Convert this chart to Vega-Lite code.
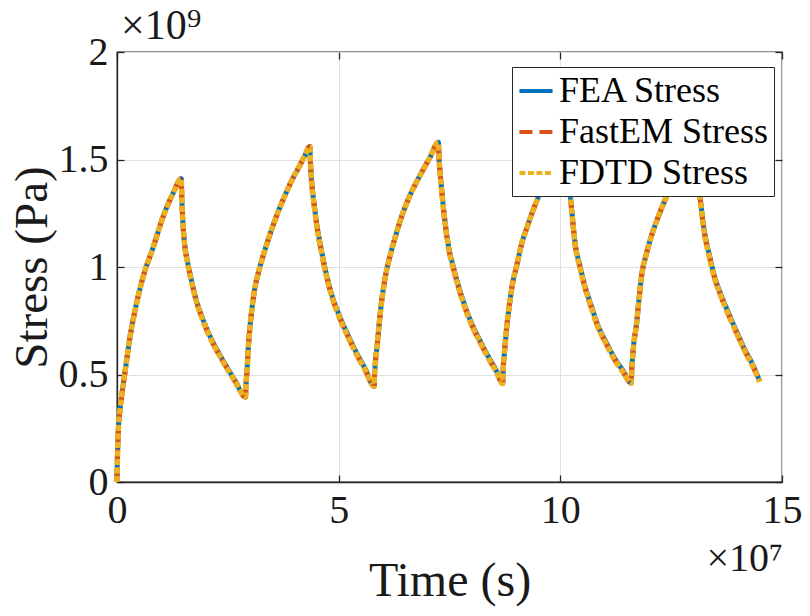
{
 "$schema": "https://vega.github.io/schema/vega-lite/v6.json",
 "width": 665, "height": 430, "autosize": "none",
 "padding": {"left": 117, "top": 52, "right": 28, "bottom": 134},
 "background": "white",
 "config": {"view": {"stroke": "#262626", "strokeWidth": 1.3}, "font": "Liberation Serif"},
 "data": {"values": [
  {"t": 0, "FEA": 0, "FastEM": 0, "FDTD": 0},
  {"t": 0.005e7, "FEA": 0.08e9, "FastEM": 0.08e9, "FDTD": 0.08e9},
  {"t": 0.015e7, "FEA": 0.15e9, "FastEM": 0.15e9, "FDTD": 0.15e9},
  {"t": 0.03e7, "FEA": 0.24e9, "FastEM": 0.24e9, "FDTD": 0.24e9},
  {"t": 0.06e7, "FEA": 0.32e9, "FastEM": 0.32e9, "FDTD": 0.32e9},
  {"t": 0.105e7, "FEA": 0.40e9, "FastEM": 0.40e9, "FDTD": 0.40e9},
  {"t": 0.18e7, "FEA": 0.51e9, "FastEM": 0.51e9, "FDTD": 0.51e9},
  {"t": 0.29e7, "FEA": 0.67e9, "FastEM": 0.67e9, "FDTD": 0.67e9},
  {"t": 0.44e7, "FEA": 0.83e9, "FastEM": 0.83e9, "FDTD": 0.83e9},
  {"t": 0.59e7, "FEA": 0.955e9, "FastEM": 0.955e9, "FDTD": 0.955e9},
  {"t": 0.82e7, "FEA": 1.094e9, "FastEM": 1.094e9, "FDTD": 1.094e9},
  {"t": 1.04e7, "FEA": 1.234e9, "FastEM": 1.234e9, "FDTD": 1.234e9},
  {"t": 1.265e7, "FEA": 1.343e9, "FastEM": 1.343e9, "FDTD": 1.343e9},
  {"t": 1.45e7, "FEA": 1.41e9, "FastEM": 1.41e9, "FDTD": 1.41e9},
  {"t": 1.46e7, "FEA": 1.335e9, "FastEM": 1.33e9, "FDTD": 1.33e9},
  {"t": 1.475e7, "FEA": 1.256e9, "FastEM": 1.25e9, "FDTD": 1.25e9},
  {"t": 1.50e7, "FEA": 1.166e9, "FastEM": 1.16e9, "FDTD": 1.16e9},
  {"t": 1.53e7, "FEA": 1.10e9, "FastEM": 1.094e9, "FDTD": 1.094e9},
  {"t": 1.58e7, "FEA": 1.036e9, "FastEM": 1.03e9, "FDTD": 1.03e9},
  {"t": 1.64e7, "FEA": 0.976e9, "FastEM": 0.97e9, "FDTD": 0.97e9},
  {"t": 1.79e7, "FEA": 0.846e9, "FastEM": 0.84e9, "FDTD": 0.84e9},
  {"t": 1.93e7, "FEA": 0.761e9, "FastEM": 0.755e9, "FDTD": 0.755e9},
  {"t": 2.09e7, "FEA": 0.682e9, "FastEM": 0.676e9, "FDTD": 0.676e9},
  {"t": 2.28e7, "FEA": 0.606e9, "FastEM": 0.60e9, "FDTD": 0.60e9},
  {"t": 2.46e7, "FEA": 0.541e9, "FastEM": 0.536e9, "FDTD": 0.536e9},
  {"t": 2.67e7, "FEA": 0.469e9, "FastEM": 0.465e9, "FDTD": 0.465e9},
  {"t": 2.90e7, "FEA": 0.395e9, "FastEM": 0.395e9, "FDTD": 0.395e9},
  {"t": 2.905e7, "FEA": 0.43e9, "FastEM": 0.43e9, "FDTD": 0.43e9},
  {"t": 2.915e7, "FEA": 0.47e9, "FastEM": 0.47e9, "FDTD": 0.47e9},
  {"t": 2.93e7, "FEA": 0.51e9, "FastEM": 0.51e9, "FDTD": 0.51e9},
  {"t": 2.96e7, "FEA": 0.62e9, "FastEM": 0.62e9, "FDTD": 0.62e9},
  {"t": 2.99e7, "FEA": 0.70e9, "FastEM": 0.70e9, "FDTD": 0.70e9},
  {"t": 3.04e7, "FEA": 0.80e9, "FastEM": 0.80e9, "FDTD": 0.80e9},
  {"t": 3.10e7, "FEA": 0.89e9, "FastEM": 0.89e9, "FDTD": 0.89e9},
  {"t": 3.19e7, "FEA": 0.975e9, "FastEM": 0.975e9, "FDTD": 0.975e9},
  {"t": 3.29e7, "FEA": 1.048e9, "FastEM": 1.048e9, "FDTD": 1.048e9},
  {"t": 3.40e7, "FEA": 1.12e9, "FastEM": 1.12e9, "FDTD": 1.12e9},
  {"t": 3.51e7, "FEA": 1.187e9, "FastEM": 1.187e9, "FDTD": 1.187e9},
  {"t": 3.65e7, "FEA": 1.265e9, "FastEM": 1.265e9, "FDTD": 1.265e9},
  {"t": 3.81e7, "FEA": 1.343e9, "FastEM": 1.343e9, "FDTD": 1.343e9},
  {"t": 3.96e7, "FEA": 1.41e9, "FastEM": 1.41e9, "FDTD": 1.41e9},
  {"t": 4.11e7, "FEA": 1.467e9, "FastEM": 1.467e9, "FDTD": 1.467e9},
  {"t": 4.23e7, "FEA": 1.515e9, "FastEM": 1.515e9, "FDTD": 1.515e9},
  {"t": 4.35e7, "FEA": 1.56e9, "FastEM": 1.56e9, "FDTD": 1.56e9},
  {"t": 4.36e7, "FEA": 1.506e9, "FastEM": 1.50e9, "FDTD": 1.50e9},
  {"t": 4.375e7, "FEA": 1.442e9, "FastEM": 1.436e9, "FDTD": 1.436e9},
  {"t": 4.41e7, "FEA": 1.357e9, "FastEM": 1.35e9, "FDTD": 1.35e9},
  {"t": 4.45e7, "FEA": 1.288e9, "FastEM": 1.28e9, "FDTD": 1.28e9},
  {"t": 4.50e7, "FEA": 1.208e9, "FastEM": 1.20e9, "FDTD": 1.20e9},
  {"t": 4.56e7, "FEA": 1.134e9, "FastEM": 1.126e9, "FDTD": 1.126e9},
  {"t": 4.63e7, "FEA": 1.058e9, "FastEM": 1.05e9, "FDTD": 1.05e9},
  {"t": 4.71e7, "FEA": 0.978e9, "FastEM": 0.97e9, "FDTD": 0.97e9},
  {"t": 4.85e7, "FEA": 0.868e9, "FastEM": 0.86e9, "FDTD": 0.86e9},
  {"t": 5.01e7, "FEA": 0.777e9, "FastEM": 0.769e9, "FDTD": 0.769e9},
  {"t": 5.20e7, "FEA": 0.688e9, "FastEM": 0.68e9, "FDTD": 0.68e9},
  {"t": 5.39e7, "FEA": 0.606e9, "FastEM": 0.599e9, "FDTD": 0.599e9},
  {"t": 5.60e7, "FEA": 0.526e9, "FastEM": 0.52e9, "FDTD": 0.52e9},
  {"t": 5.80e7, "FEA": 0.445e9, "FastEM": 0.445e9, "FDTD": 0.445e9},
  {"t": 5.81e7, "FEA": 0.50e9, "FastEM": 0.50e9, "FDTD": 0.50e9},
  {"t": 5.83e7, "FEA": 0.56e9, "FastEM": 0.56e9, "FDTD": 0.56e9},
  {"t": 5.87e7, "FEA": 0.64e9, "FastEM": 0.64e9, "FDTD": 0.64e9},
  {"t": 5.95e7, "FEA": 0.808e9, "FastEM": 0.808e9, "FDTD": 0.808e9},
  {"t": 6.06e7, "FEA": 0.963e9, "FastEM": 0.963e9, "FDTD": 0.963e9},
  {"t": 6.17e7, "FEA": 1.06e9, "FastEM": 1.06e9, "FDTD": 1.06e9},
  {"t": 6.29e7, "FEA": 1.149e9, "FastEM": 1.149e9, "FDTD": 1.149e9},
  {"t": 6.43e7, "FEA": 1.24e9, "FastEM": 1.24e9, "FDTD": 1.24e9},
  {"t": 6.58e7, "FEA": 1.32e9, "FastEM": 1.32e9, "FDTD": 1.32e9},
  {"t": 6.73e7, "FEA": 1.385e9, "FastEM": 1.385e9, "FDTD": 1.385e9},
  {"t": 6.88e7, "FEA": 1.443e9, "FastEM": 1.443e9, "FDTD": 1.443e9},
  {"t": 7.06e7, "FEA": 1.51e9, "FastEM": 1.51e9, "FDTD": 1.51e9},
  {"t": 7.25e7, "FEA": 1.58e9, "FastEM": 1.58e9, "FDTD": 1.58e9},
  {"t": 7.26e7, "FEA": 1.526e9, "FastEM": 1.52e9, "FDTD": 1.52e9},
  {"t": 7.29e7, "FEA": 1.436e9, "FastEM": 1.428e9, "FDTD": 1.428e9},
  {"t": 7.33e7, "FEA": 1.348e9, "FastEM": 1.34e9, "FDTD": 1.34e9},
  {"t": 7.37e7, "FEA": 1.265e9, "FastEM": 1.257e9, "FDTD": 1.257e9},
  {"t": 7.42e7, "FEA": 1.178e9, "FastEM": 1.17e9, "FDTD": 1.17e9},
  {"t": 7.48e7, "FEA": 1.095e9, "FastEM": 1.087e9, "FDTD": 1.087e9},
  {"t": 7.59e7, "FEA": 0.998e9, "FastEM": 0.99e9, "FDTD": 0.99e9},
  {"t": 7.71e7, "FEA": 0.908e9, "FastEM": 0.90e9, "FDTD": 0.90e9},
  {"t": 7.85e7, "FEA": 0.818e9, "FastEM": 0.81e9, "FDTD": 0.81e9},
  {"t": 8.00e7, "FEA": 0.738e9, "FastEM": 0.73e9, "FDTD": 0.73e9},
  {"t": 8.19e7, "FEA": 0.657e9, "FastEM": 0.65e9, "FDTD": 0.65e9},
  {"t": 8.38e7, "FEA": 0.582e9, "FastEM": 0.575e9, "FDTD": 0.575e9},
  {"t": 8.55e7, "FEA": 0.521e9, "FastEM": 0.515e9, "FDTD": 0.515e9},
  {"t": 8.70e7, "FEA": 0.458e9, "FastEM": 0.458e9, "FDTD": 0.458e9},
  {"t": 8.71e7, "FEA": 0.52e9, "FastEM": 0.52e9, "FDTD": 0.52e9},
  {"t": 8.73e7, "FEA": 0.58e9, "FastEM": 0.58e9, "FDTD": 0.58e9},
  {"t": 8.76e7, "FEA": 0.65e9, "FastEM": 0.65e9, "FDTD": 0.65e9},
  {"t": 8.79e7, "FEA": 0.72e9, "FastEM": 0.72e9, "FDTD": 0.72e9},
  {"t": 8.85e7, "FEA": 0.82e9, "FastEM": 0.82e9, "FDTD": 0.82e9},
  {"t": 8.91e7, "FEA": 0.908e9, "FastEM": 0.908e9, "FDTD": 0.908e9},
  {"t": 9.02e7, "FEA": 1.01e9, "FastEM": 1.01e9, "FDTD": 1.01e9},
  {"t": 9.13e7, "FEA": 1.11e9, "FastEM": 1.11e9, "FDTD": 1.11e9},
  {"t": 9.25e7, "FEA": 1.185e9, "FastEM": 1.185e9, "FDTD": 1.185e9},
  {"t": 9.36e7, "FEA": 1.25e9, "FastEM": 1.25e9, "FDTD": 1.25e9},
  {"t": 9.54e7, "FEA": 1.343e9, "FastEM": 1.343e9, "FDTD": 1.343e9},
  {"t": 9.70e7, "FEA": 1.41e9, "FastEM": 1.41e9, "FDTD": 1.41e9},
  {"t": 9.85e7, "FEA": 1.47e9, "FastEM": 1.47e9, "FDTD": 1.47e9},
  {"t": 10.00e7, "FEA": 1.525e9, "FastEM": 1.525e9, "FDTD": 1.525e9},
  {"t": 10.15e7, "FEA": 1.58e9, "FastEM": 1.58e9, "FDTD": 1.58e9},
  {"t": 10.16e7, "FEA": 1.526e9, "FastEM": 1.52e9, "FDTD": 1.52e9},
  {"t": 10.19e7, "FEA": 1.438e9, "FastEM": 1.43e9, "FDTD": 1.43e9},
  {"t": 10.22e7, "FEA": 1.351e9, "FastEM": 1.343e9, "FDTD": 1.343e9},
  {"t": 10.27e7, "FEA": 1.238e9, "FastEM": 1.23e9, "FDTD": 1.23e9},
  {"t": 10.33e7, "FEA": 1.118e9, "FastEM": 1.11e9, "FDTD": 1.11e9},
  {"t": 10.44e7, "FEA": 1.008e9, "FastEM": 1.00e9, "FDTD": 1.00e9},
  {"t": 10.55e7, "FEA": 0.916e9, "FastEM": 0.908e9, "FDTD": 0.908e9},
  {"t": 10.70e7, "FEA": 0.818e9, "FastEM": 0.81e9, "FDTD": 0.81e9},
  {"t": 10.85e7, "FEA": 0.728e9, "FastEM": 0.72e9, "FDTD": 0.72e9},
  {"t": 11.04e7, "FEA": 0.647e9, "FastEM": 0.64e9, "FDTD": 0.64e9},
  {"t": 11.23e7, "FEA": 0.574e9, "FastEM": 0.567e9, "FDTD": 0.567e9},
  {"t": 11.42e7, "FEA": 0.516e9, "FastEM": 0.51e9, "FDTD": 0.51e9},
  {"t": 11.60e7, "FEA": 0.46e9, "FastEM": 0.46e9, "FDTD": 0.46e9},
  {"t": 11.61e7, "FEA": 0.52e9, "FastEM": 0.52e9, "FDTD": 0.52e9},
  {"t": 11.63e7, "FEA": 0.58e9, "FastEM": 0.58e9, "FDTD": 0.58e9},
  {"t": 11.66e7, "FEA": 0.65e9, "FastEM": 0.65e9, "FDTD": 0.65e9},
  {"t": 11.71e7, "FEA": 0.72e9, "FastEM": 0.72e9, "FDTD": 0.72e9},
  {"t": 11.77e7, "FEA": 0.84e9, "FastEM": 0.84e9, "FDTD": 0.84e9},
  {"t": 11.83e7, "FEA": 0.955e9, "FastEM": 0.955e9, "FDTD": 0.955e9},
  {"t": 11.94e7, "FEA": 1.06e9, "FastEM": 1.06e9, "FDTD": 1.06e9},
  {"t": 12.05e7, "FEA": 1.141e9, "FastEM": 1.141e9, "FDTD": 1.141e9},
  {"t": 12.24e7, "FEA": 1.25e9, "FastEM": 1.25e9, "FDTD": 1.25e9},
  {"t": 12.43e7, "FEA": 1.343e9, "FastEM": 1.343e9, "FDTD": 1.343e9},
  {"t": 12.60e7, "FEA": 1.41e9, "FastEM": 1.41e9, "FDTD": 1.41e9},
  {"t": 12.75e7, "FEA": 1.47e9, "FastEM": 1.47e9, "FDTD": 1.47e9},
  {"t": 12.90e7, "FEA": 1.525e9, "FastEM": 1.525e9, "FDTD": 1.525e9},
  {"t": 13.05e7, "FEA": 1.58e9, "FastEM": 1.58e9, "FDTD": 1.58e9},
  {"t": 13.06e7, "FEA": 1.526e9, "FastEM": 1.52e9, "FDTD": 1.52e9},
  {"t": 13.09e7, "FEA": 1.438e9, "FastEM": 1.43e9, "FDTD": 1.43e9},
  {"t": 13.14e7, "FEA": 1.351e9, "FastEM": 1.343e9, "FDTD": 1.343e9},
  {"t": 13.19e7, "FEA": 1.258e9, "FastEM": 1.25e9, "FDTD": 1.25e9},
  {"t": 13.25e7, "FEA": 1.165e9, "FastEM": 1.157e9, "FDTD": 1.157e9},
  {"t": 13.36e7, "FEA": 1.058e9, "FastEM": 1.05e9, "FDTD": 1.05e9},
  {"t": 13.47e7, "FEA": 0.963e9, "FastEM": 0.955e9, "FDTD": 0.955e9},
  {"t": 13.62e7, "FEA": 0.873e9, "FastEM": 0.865e9, "FDTD": 0.865e9},
  {"t": 13.78e7, "FEA": 0.793e9, "FastEM": 0.785e9, "FDTD": 0.785e9},
  {"t": 13.96e7, "FEA": 0.707e9, "FastEM": 0.70e9, "FDTD": 0.70e9},
  {"t": 14.15e7, "FEA": 0.621e9, "FastEM": 0.614e9, "FDTD": 0.614e9},
  {"t": 14.35e7, "FEA": 0.541e9, "FastEM": 0.535e9, "FDTD": 0.535e9},
  {"t": 14.50e7, "FEA": 0.468e9, "FastEM": 0.466e9, "FDTD": 0.466e9}
 ]},
 "layer": [
  {
   "encoding": {
    "x": {"field": "t", "type": "quantitative", "scale": {"domain": [0, 150000000], "nice": false, "zero": false},
      "axis": {"values": [0, 50000000, 100000000, 150000000], "labelExpr": "datum.value / 1e7", "title": "Time (s)",
        "grid": true, "gridColor": "#e0e0e0", "gridWidth": 1, "domainColor": "#262626", "domainWidth": 1.3,
        "tickColor": "#262626", "tickWidth": 1.3, "tickSize": -7, "labelFont": "Liberation Serif", "labelFontSize": 40,
        "labelColor": "#1a1a1a", "labelPadding": 15, "labelFlush": false, "labelOverlap": false,
        "titleFont": "Liberation Serif", "titleFontSize": 48, "titleFontWeight": "normal", "titleColor": "#1a1a1a", "titlePadding": 27}},
    "y": {"field": "stress", "type": "quantitative", "scale": {"domain": [0, 2000000000], "nice": false},
      "axis": {"values": [0, 500000000, 1000000000, 1500000000, 2000000000], "labelExpr": "datum.value / 1e9", "title": "Stress (Pa)",
        "grid": true, "gridColor": "#e0e0e0", "gridWidth": 1, "domainColor": "#262626", "domainWidth": 1.3,
        "tickColor": "#262626", "tickWidth": 1.3, "tickSize": -7, "labelFont": "Liberation Serif", "labelFontSize": 40,
        "labelColor": "#1a1a1a", "labelPadding": 16, "labelFlush": false, "labelOverlap": false,
        "titleFont": "Liberation Serif", "titleFontSize": 47, "titleFontWeight": "normal", "titleColor": "#1a1a1a", "titlePadding": 2}}
   },
   "layer": [
    {
     "transform": [{"fold": ["FEA", "FastEM", "FDTD"], "as": ["series", "stress"]}],
     "encoding": {
      "color": {"field": "series", "type": "nominal",
        "scale": {"domain": ["FEA", "FastEM", "FDTD"], "range": ["#0072BD", "#D95319", "#EDB120"]},
        "legend": {"title": null, "orient": "none", "legendX": 395, "legendY": 15, "fillColor": "white", "strokeColor": "#262626",
          "padding": 5, "labelFont": "Liberation Serif", "labelFontSize": 36, "labelColor": "#000000", "labelExpr": "datum.label + ' Stress'",
          "labelLimit": 400, "symbolType": "stroke", "symbolStrokeWidth": 4, "symbolSize": 1100, "rowPadding": 4, "labelOffset": 4}},
      "strokeDash": {"field": "series", "type": "nominal",
        "scale": {"domain": ["FEA", "FastEM", "FDTD"], "range": [[1, 0], [13, 7], [6, 2.5]]},
        "legend": {"title": null, "orient": "none", "legendX": 395, "legendY": 15, "fillColor": "white", "strokeColor": "#262626",
          "padding": 5, "labelFont": "Liberation Serif", "labelFontSize": 36, "labelColor": "#000000", "labelExpr": "datum.label + ' Stress'",
          "labelLimit": 400, "symbolType": "stroke", "symbolStrokeWidth": 4, "symbolSize": 1100, "rowPadding": 4, "labelOffset": 4}}
     },
     "layer": [
      {"transform": [{"filter": "datum.series === 'FEA'"}], "mark": {"type": "line", "strokeWidth": 5, "interpolate": "monotone"}},
      {"transform": [{"filter": "datum.series === 'FastEM'"}], "mark": {"type": "line", "strokeWidth": 5, "strokeCap": "butt", "interpolate": "monotone"}},
      {"transform": [{"filter": "datum.series === 'FDTD'"}], "mark": {"type": "line", "strokeWidth": 5.5, "strokeCap": "butt", "interpolate": "monotone"}}
     ]
    }
   ]
  },
  {
   "data": {"values": [{"tx": 150000000, "sy": 0, "label": "×10⁷"}]},
   "mark": {"type": "text", "align": "right", "baseline": "alphabetic", "dx": 1, "dy": 89, "fontSize": 40, "font": "Liberation Serif", "color": "#1a1a1a"},
   "encoding": {
    "x": {"field": "tx", "type": "quantitative", "axis": null},
    "y": {"field": "sy", "type": "quantitative", "axis": null},
    "text": {"field": "label"}
   }
  },
  {
   "data": {"values": [{"tx": 0, "sy": 2000000000, "label": "×10⁹"}]},
   "mark": {"type": "text", "align": "left", "baseline": "alphabetic", "dx": 4, "dy": -13, "fontSize": 42, "font": "Liberation Serif", "color": "#1a1a1a"},
   "encoding": {
    "x": {"field": "tx", "type": "quantitative", "axis": null},
    "y": {"field": "sy", "type": "quantitative", "axis": null},
    "text": {"field": "label"}
   }
  },
  {
   "mark": {"type": "line", "strokeOpacity": 0},
   "encoding": {
    "x": {"field": "t", "type": "quantitative", "axis": {"orient": "top", "values": [0, 50000000, 100000000, 150000000], "labels": false, "title": null, "grid": false, "domain": false, "tickColor": "#262626", "tickWidth": 1.3, "tickSize": -7}},
    "y": {"field": "FEA", "type": "quantitative", "axis": {"orient": "right", "values": [0, 500000000, 1000000000, 1500000000, 2000000000], "labels": false, "title": null, "grid": false, "domain": false, "tickColor": "#262626", "tickWidth": 1.3, "tickSize": -7}}
   }
  }
 ],
 "resolve": {"axis": {"x": "independent", "y": "independent"}}
}
